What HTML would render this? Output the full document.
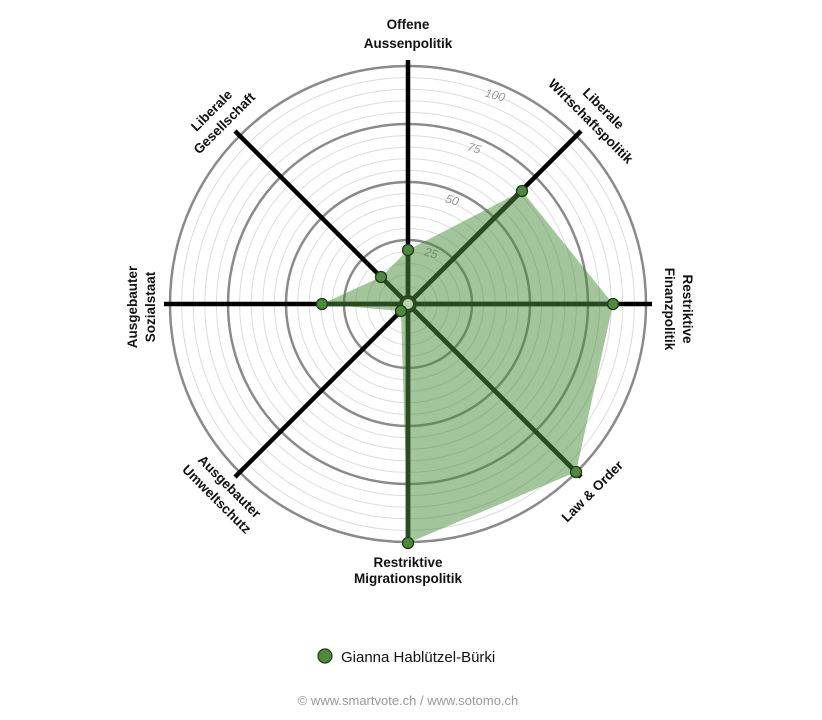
<!DOCTYPE html>
<html><head><meta charset="utf-8"><style>
html,body{margin:0;padding:0;background:#fff;width:822px;height:720px;overflow:hidden}
svg text{font-family:"Liberation Sans",Arial,sans-serif}
.l{font-size:13.5px;font-weight:bold;fill:#111;text-anchor:middle}
.t{font-size:12px;font-style:italic;fill:#999;text-anchor:middle}
</style></head><body>
<svg width="822" height="720" viewBox="0 0 822 720">
<g fill="none" stroke="#dcdcdc" stroke-width="1">
<circle cx="408" cy="304" r="17.6"/><circle cx="408" cy="304" r="29.2"/><circle cx="408" cy="304" r="40.8"/><circle cx="408" cy="304" r="52.4"/>
<circle cx="408" cy="304" r="75.6"/><circle cx="408" cy="304" r="87.2"/><circle cx="408" cy="304" r="98.8"/><circle cx="408" cy="304" r="110.4"/>
<circle cx="408" cy="304" r="133.6"/><circle cx="408" cy="304" r="145.2"/><circle cx="408" cy="304" r="156.8"/><circle cx="408" cy="304" r="168.4"/>
<circle cx="408" cy="304" r="191.6"/><circle cx="408" cy="304" r="203.2"/><circle cx="408" cy="304" r="214.8"/><circle cx="408" cy="304" r="226.4"/>
</g>
<g fill="none" stroke="#8a8a8a" stroke-width="2.5">
<circle cx="408" cy="304" r="64"/><circle cx="408" cy="304" r="122"/><circle cx="408" cy="304" r="180"/><circle cx="408" cy="304" r="238"/>
</g>
<text class="t" x="494" y="99" transform="rotate(16 494 99)">100</text>
<text class="t" x="473" y="152" transform="rotate(16 473 152)">75</text>
<text class="t" x="451" y="204" transform="rotate(16 451 204)">50</text>
<text class="t" x="430" y="257" transform="rotate(16 430 257)">25</text>
<g stroke="#000" stroke-width="4.5" stroke-linecap="butt">
<line x1="408" y1="304" x2="408" y2="60"/>
<line x1="408" y1="304" x2="581" y2="131"/>
<line x1="408" y1="304" x2="652" y2="304"/>
<line x1="408" y1="304" x2="581" y2="477"/>
<line x1="408" y1="304" x2="408" y2="548"/>
<line x1="408" y1="304" x2="235" y2="477"/>
<line x1="408" y1="304" x2="164" y2="304"/>
<line x1="408" y1="304" x2="235" y2="131"/>
</g>
<polygon points="408,250 522,191 613,304 576,472 408,543 401,311 322,304 381,277" fill="rgba(70,140,55,0.5)"/>
<g stroke="#2a4a22" stroke-width="4.5">
<line x1="408" y1="304" x2="408" y2="250"/>
<line x1="408" y1="304" x2="522" y2="191"/>
<line x1="408" y1="304" x2="613" y2="304"/>
<line x1="408" y1="304" x2="576" y2="472"/>
<line x1="408" y1="304" x2="408" y2="543"/>
<line x1="408" y1="304" x2="401" y2="311"/>
<line x1="408" y1="304" x2="322" y2="304"/>
<line x1="408" y1="304" x2="381" y2="277"/>
</g>
<circle cx="408" cy="304" r="7" fill="#b8d4ae" stroke="#2a4a22" stroke-width="4"/>
<g fill="#4e8a3e" stroke="#1e3a18" stroke-width="1.3">
<circle cx="408" cy="250" r="5.5"/><circle cx="522" cy="191" r="5.5"/><circle cx="613" cy="304" r="5.5"/><circle cx="576" cy="472" r="5.5"/>
<circle cx="408" cy="543" r="5.5"/><circle cx="401" cy="311" r="5.5"/><circle cx="322" cy="304" r="5.5"/><circle cx="381" cy="277" r="5.5"/>
</g>
<text class="l" x="408" y="29">Offene</text>
<text class="l" x="408" y="48">Aussenpolitik</text>
<g transform="translate(596,116) rotate(45)"><text class="l" x="0" y="-6">Liberale</text><text class="l" x="0" y="12">Wirtschaftspolitik</text></g>
<g transform="translate(677,309) rotate(90)"><text class="l" x="0" y="-6">Restriktive</text><text class="l" x="0" y="12">Finanzpolitik</text></g>
<g transform="translate(592,491) rotate(-45)"><text class="l" x="0" y="5">Law &amp; Order</text></g>
<text class="l" x="408" y="567">Restriktive</text>
<text class="l" x="408" y="583">Migrationspolitik</text>
<g transform="translate(222,494) rotate(45)"><text class="l" x="0" y="-6">Ausgebauter</text><text class="l" x="0" y="12">Umweltschutz</text></g>
<g transform="translate(140,307) rotate(-90)"><text class="l" x="0" y="-3">Ausgebauter</text><text class="l" x="0" y="15">Sozialstaat</text></g>
<g transform="translate(219,118) rotate(-45)"><text class="l" x="0" y="-6">Liberale</text><text class="l" x="0" y="12">Gesellschaft</text></g>
<circle cx="325" cy="656" r="7" fill="#4e8a3e" stroke="#1e3a18" stroke-width="1.2"/>
<text x="341" y="662" style="font-size:15px;fill:#111">Gianna Hablützel-Bürki</text>
<text x="408" y="705" text-anchor="middle" style="font-size:13px;fill:#999">© www.smartvote.ch / www.sotomo.ch</text>
</svg>
</body></html>
